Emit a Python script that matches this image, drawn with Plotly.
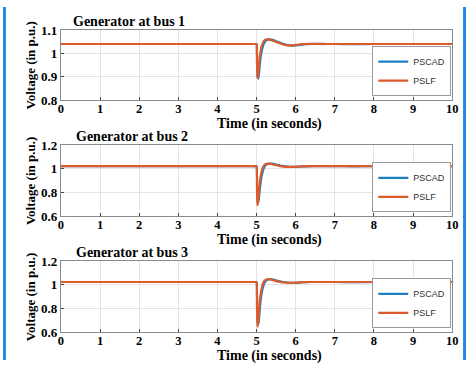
import plotly.graph_objects as go

# ---------------- data ----------------
time_s = [0, 4.99, 5.0, 5.01, 5.02, 5.03, 5.05, 5.08, 5.12, 5.16, 5.2, 5.25, 5.3, 5.35, 5.4,
          5.5, 5.6, 5.7, 5.8, 5.9, 6.0, 6.1, 6.2, 6.4, 6.6, 6.8, 7.0, 7.5, 8.0, 9.0, 10.0]

bus1_pscad = [1.040, 1.040, 1.040, 1.000, 0.930, 0.900, 0.892, 0.950, 1.000, 1.030, 1.046, 1.056, 1.060,
              1.060, 1.058, 1.052, 1.046, 1.040, 1.035, 1.033, 1.034, 1.036, 1.038, 1.040, 1.041, 1.040,
              1.040, 1.039, 1.040, 1.040, 1.040]
bus1_pslf = [1.040, 1.040, 1.040, 0.960, 0.905, 0.895, 0.930, 0.985, 1.025, 1.045, 1.055, 1.060, 1.060,
             1.058, 1.055, 1.049, 1.043, 1.037, 1.034, 1.034, 1.036, 1.038, 1.040, 1.041, 1.040, 1.040,
             1.040, 1.040, 1.040, 1.040, 1.040]

bus2_pscad = [1.022, 1.022, 1.022, 0.950, 0.800, 0.740, 0.720, 0.820, 0.920, 0.980, 1.015, 1.035, 1.042,
              1.044, 1.043, 1.036, 1.028, 1.022, 1.018, 1.016, 1.016, 1.018, 1.020, 1.022, 1.023, 1.022,
              1.022, 1.021, 1.022, 1.022, 1.022]
bus2_pslf = [1.022, 1.022, 1.022, 0.850, 0.720, 0.692, 0.760, 0.880, 0.965, 1.010, 1.032, 1.042, 1.044,
             1.042, 1.038, 1.030, 1.023, 1.019, 1.016, 1.016, 1.017, 1.019, 1.021, 1.022, 1.022, 1.022,
             1.022, 1.022, 1.022, 1.022, 1.022]

bus3_pscad = [1.024, 1.024, 1.024, 0.930, 0.760, 0.680, 0.670, 0.790, 0.910, 0.975, 1.015, 1.038, 1.046,
              1.048, 1.046, 1.038, 1.030, 1.024, 1.020, 1.018, 1.018, 1.020, 1.022, 1.024, 1.024, 1.024,
              1.024, 1.023, 1.024, 1.024, 1.024]
bus3_pslf = [1.024, 1.024, 1.024, 0.820, 0.680, 0.646, 0.720, 0.860, 0.955, 1.008, 1.034, 1.045, 1.048,
             1.046, 1.041, 1.032, 1.025, 1.020, 1.018, 1.018, 1.019, 1.021, 1.023, 1.024, 1.024, 1.024,
             1.024, 1.024, 1.024, 1.024, 1.024]

panel_titles = ["Generator at bus 1", "Generator at bus 2", "Generator at bus 3"]
series_names = ["PSCAD", "PSLF"]
x_ticks = [0, 1, 2, 3, 4, 5, 6, 7, 8, 9, 10]
y_ticks = [[0.8, 0.9, 1.0, 1.1], [0.6, 0.8, 1.0, 1.2], [0.6, 0.8, 1.0, 1.2]]
y_ticktext = [["0.8", "0.9", "1", "1.1"], ["0.6", "0.8", "1", "1.2"], ["0.6", "0.8", "1", "1.2"]]
y_ranges = [[0.8, 1.1], [0.6, 1.2], [0.6, 1.2]]
x_title = "Time (in seconds)"
y_title = "Voltage (in p.u.)"

# ---------------- layout geometry (pixels) ----------------
W, H = 472, 368
plot_left, plot_right = 59, 458
panels_px = [(24, 97), (144, 218), (265, 339)]
legend_px = [(457, 93), (457, 214), (457, 335)]

PSCAD_COLOR = "#1f7fc4"
PSLF_COLOR = "#dd5a2b"
SERIF = "Liberation Serif"

fig = go.Figure()
all_series = [(bus1_pscad, bus1_pslf), (bus2_pscad, bus2_pslf), (bus3_pscad, bus3_pslf)]
for i, (s_pscad, s_pslf) in enumerate(all_series):
    sfx = "" if i == 0 else str(i + 1)
    leg = "legend" if i == 0 else f"legend{i + 1}"
    for name, vals, col in [(series_names[0], s_pscad, PSCAD_COLOR), (series_names[1], s_pslf, PSLF_COLOR)]:
        fig.add_trace(go.Scatter(x=time_s, y=vals, mode="lines", name=name,
                                 line=dict(color=col, width=2.2, shape="spline", smoothing=0.6),
                                 xaxis="x" + sfx, yaxis="y" + sfx, legend=leg, showlegend=True))

layout = dict(width=W, height=H, margin=dict(l=0, r=0, t=0, b=0),
              paper_bgcolor="white", plot_bgcolor="white", showlegend=True)
annotations = []
shapes = []
for i, (top, bot) in enumerate(panels_px):
    sfx = "" if i == 0 else str(i + 1)
    ydom = [1 - bot / H, 1 - top / H]
    layout["xaxis" + sfx] = dict(domain=[plot_left / W, plot_right / W], range=[0, 10],
                                 anchor="y" + sfx, tickvals=x_ticks, ticks="inside", ticklen=3,
                                 tickcolor="#444", showgrid=True, gridcolor="#e4e4e4", gridwidth=1,
                                 showline=True, linecolor="#8a8a8a", linewidth=1, mirror=True,
                                 zeroline=False, ticklabelstandoff=-3,
                                 tickfont=dict(family=SERIF, size=12.5, color="black", weight="bold"))
    layout["yaxis" + sfx] = dict(domain=ydom, range=y_ranges[i], anchor="x" + sfx,
                                 tickvals=y_ticks[i], ticktext=y_ticktext[i], ticks="inside", ticklen=3,
                                 tickcolor="#444", showgrid=True, gridcolor="#e4e4e4", gridwidth=1,
                                 showline=True, linecolor="#8a8a8a", linewidth=1, mirror=True,
                                 zeroline=False,
                                 tickfont=dict(family=SERIF, size=13, color="black", weight="bold"))
    leg_name = "legend" if i == 0 else f"legend{i + 1}"
    lx, ly = legend_px[i]
    layout[leg_name] = dict(x=lx / W, y=1 - ly / H, xanchor="right", yanchor="bottom",
                            bgcolor="white", bordercolor="#9a9a9a", borderwidth=1,
                            font=dict(family="Liberation Sans", size=9, color="#333"),
                            itemwidth=30, tracegroupgap=0)
    # panel title
    annotations.append(dict(text=panel_titles[i], xref="paper", yref="paper",
                            x=(128 if i == 0 else 131) / W, y=1 - (top - 9) / H,
                            xanchor="center", yanchor="middle", showarrow=False,
                            font=dict(family=SERIF, size=14, color="black", weight="bold")))
    # x title
    annotations.append(dict(text=x_title, xref="paper", yref="paper",
                            x=272 / W, y=1 - (bot + 25) / H, xanchor="center", yanchor="middle",
                            showarrow=False,
                            font=dict(family=SERIF, size=14, color="black", weight="bold")))
    # y title
    annotations.append(dict(text=y_title, xref="paper", yref="paper",
                            x=28 / W, y=1 - ((top + bot) / 2) / H, xanchor="center", yanchor="middle",
                            textangle=-90, showarrow=False,
                            font=dict(family=SERIF, size=13, color="black", weight="bold")))

# blue frame edges of the original figure
shapes.append(dict(type="rect", xref="paper", yref="paper", x0=0, x1=3 / W, y0=0, y1=1,
                   fillcolor="#1e8ae6", line=dict(width=0)))
shapes.append(dict(type="rect", xref="paper", yref="paper", x0=469 / W, x1=1, y0=0, y1=1,
                   fillcolor="#1e8ae6", line=dict(width=0)))

layout["annotations"] = annotations
layout["shapes"] = shapes
fig.update_layout(**layout)
fig.write_html("out.html", config={"displayModeBar": False},
               post_script="document.body.style.margin='0';document.body.style.padding='0';"
                           "document.documentElement.style.overflow='hidden';")
